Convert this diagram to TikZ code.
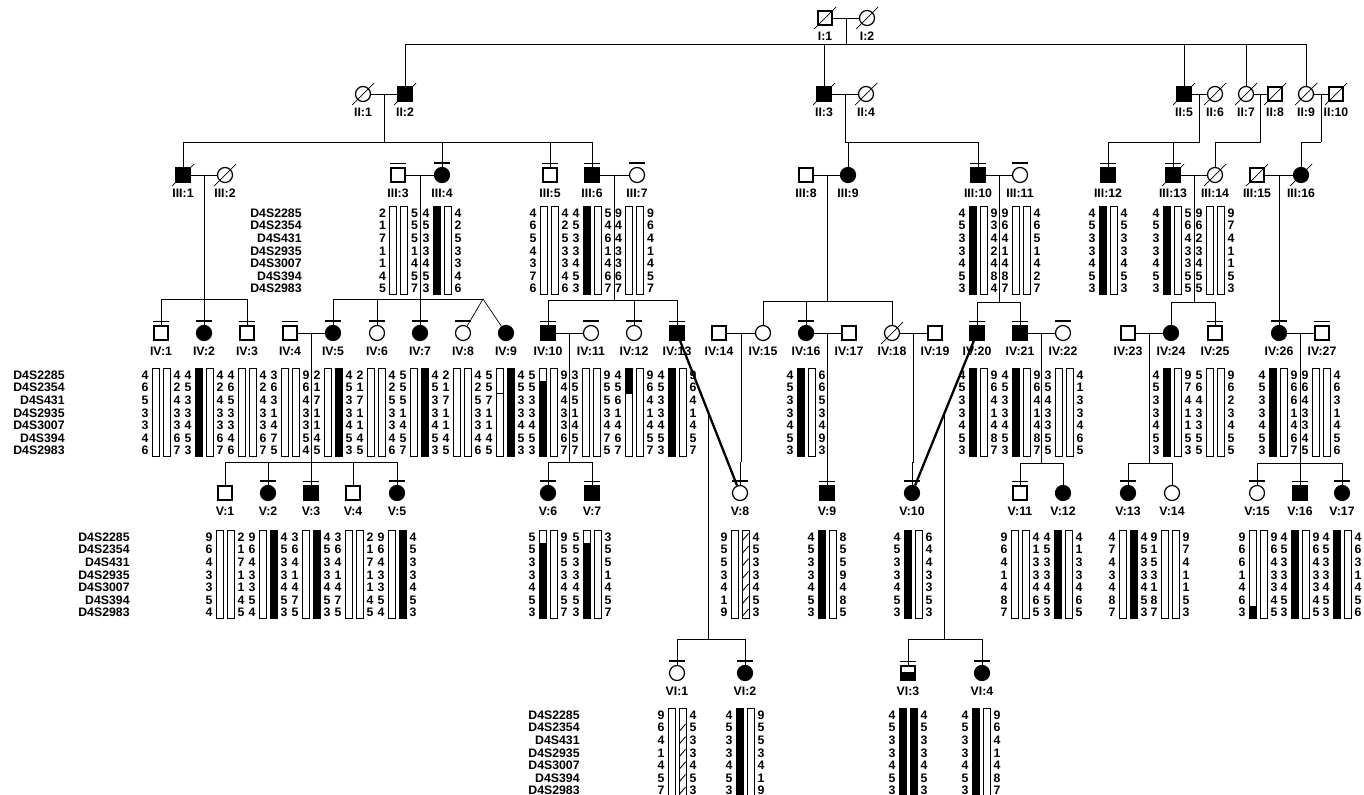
\documentclass[tikz,border=0pt]{standalone}
\usepackage{fontspec}
\setmainfont{Liberation Sans}
\usetikzlibrary{calc}

\newcommand{\ind}[5]{\node[#4] (#1) at (#2,#3) {};
  \node[lab] at (#2,{#3+18}) {#5};}
\newcommand{\dead}[1]{\draw ($(#1)+(-11,11)$) -- ($(#1)+(11,-11)$);}
\newcommand{\tested}[1]{\draw[line width=0.7pt] ($(#1.north)+(-8,-4)$) -- ++(16,0);}
\newcommand{\loci}[2]{\foreach \m [count=\i from 0] in {D4S2285,D4S2354,D4S431,D4S2935,D4S3007,D4S394,D4S2983}
  \node[locus] at (#1,{#2+\i*12.6}) {\m};}
\newcommand{\hapbar}[3]{\foreach \a/\b in {#3}{\ifnum\a>0
    \fill ({#1-3.5},{#2+(\a-1)*12.6-6.3}) rectangle ({#1+3.5},{#2+(\b-1)*12.6+6.3});\fi}
  \draw[hapline] ({#1-3.5},{#2-6.3}) rectangle ({#1+3.5},{#2+6*12.6+6.3});}
\newcommand{\hap}[6]{\foreach \v [count=\i from 0] in {#3} \node[num] at ({#1-16},{#2+\i*12.6}) {\v};
  \foreach \v [count=\i from 0] in {#6} \node[num] at ({#1+16},{#2+\i*12.6}) {\v};
  \hapbar{#1-5.5}{#2}{#4}\hapbar{#1+5.5}{#2}{#5}}
\newcommand{\haphatch}[3]{\foreach \i in {#3,...,6}
  \draw[hapline] ({#1-3},{#2+\i*12.6+3.5}) -- ({#1+3},{#2+\i*12.6-3.5});}
\newcommand{\sib}[5]{\coordinate (#3m) at ($(#1)!0.5!(#2)$);
  \coordinate (#3) at (#3m |- 0,#4);
  \draw (#3m) -- (#3);
  \foreach \c in {#5} \draw (\c) |- (#3);}

\begin{document}
\begin{tikzpicture}[x=0.02cm,y=-0.02cm,line width=0.4pt,
  male/.style={draw,rectangle,minimum size=0.28cm,inner sep=0,line width=0.7pt},
  female/.style={draw,circle,minimum size=0.3cm,inner sep=0,line width=0.7pt},
  aff/.style={fill=black},
  lab/.style={font=\bfseries\fontsize{7}{8}\selectfont,inner sep=0},
  num/.style={font=\bfseries\fontsize{7}{8}\selectfont,inner sep=0},
  locus/.style={font=\bfseries\fontsize{7}{8}\selectfont,anchor=east,inner sep=0},
  hapline/.style={line width=0.5pt},
  mate/.style={line width=1.3pt}]
\useasboundingbox (0,0) rectangle (1364,794);

% generation I and II
\ind{i1}{825}{18}{male}{I:1}
\ind{i2}{867}{18}{female}{I:2}
\ind{ii1}{363}{94}{female}{II:1}
\ind{ii2}{405}{94}{male,aff}{II:2}
\ind{ii3}{824}{94}{male,aff}{II:3}
\ind{ii4}{866}{94}{female}{II:4}
\ind{ii5}{1184}{94}{male,aff}{II:5}
\ind{ii6}{1215}{94}{female}{II:6}
\ind{ii7}{1246}{94}{female}{II:7}
\ind{ii8}{1275}{94}{male}{II:8}
\ind{ii9}{1306}{94}{female}{II:9}
\ind{ii10}{1336}{94}{male}{II:10}

% generation III
\ind{iii1}{183}{175}{male,aff}{III:1}
\ind{iii2}{225}{175}{female}{III:2}
\ind{iii3}{398}{175}{male}{III:3}
\ind{iii4}{442}{175}{female,aff}{III:4}
\ind{iii5}{550}{175}{male}{III:5}
\ind{iii6}{592}{175}{male,aff}{III:6}
\ind{iii7}{637}{175}{female}{III:7}
\ind{iii8}{806}{175}{male}{III:8}
\ind{iii9}{848}{175}{female,aff}{III:9}
\ind{iii10}{978}{175}{male,aff}{III:10}
\ind{iii11}{1020}{175}{female}{III:11}
\ind{iii12}{1108}{175}{male,aff}{III:12}
\ind{iii13}{1173}{175}{male,aff}{III:13}
\ind{iii14}{1215}{175}{female}{III:14}
\ind{iii15}{1257}{175}{male}{III:15}
\ind{iii16}{1301}{175}{female,aff}{III:16}

% generation IV
\ind{iv1}{161}{333}{male}{IV:1}
\ind{iv2}{204}{333}{female,aff}{IV:2}
\ind{iv3}{247}{333}{male}{IV:3}
\ind{iv4}{290}{333}{male}{IV:4}
\ind{iv5}{333}{333}{female,aff}{IV:5}
\ind{iv6}{377}{333}{female}{IV:6}
\ind{iv7}{420}{333}{female,aff}{IV:7}
\ind{iv8}{463}{333}{female}{IV:8}
\ind{iv9}{506}{333}{female,aff}{IV:9}
\ind{iv10}{548}{333}{male,aff}{IV:10}
\ind{iv11}{591}{333}{female}{IV:11}
\ind{iv12}{634}{333}{female}{IV:12}
\ind{iv13}{677}{333}{male,aff}{IV:13}
\ind{iv14}{719}{333}{male}{IV:14}
\ind{iv15}{763}{333}{female}{IV:15}
\ind{iv16}{806}{333}{female,aff}{IV:16}
\ind{iv17}{849}{333}{male}{IV:17}
\ind{iv18}{892}{333}{female}{IV:18}
\ind{iv19}{935}{333}{male}{IV:19}
\ind{iv20}{977}{333}{male,aff}{IV:20}
\ind{iv21}{1020}{333}{male,aff}{IV:21}
\ind{iv22}{1063}{333}{female}{IV:22}
\ind{iv23}{1128}{333}{male}{IV:23}
\ind{iv24}{1171}{333}{female,aff}{IV:24}
\ind{iv25}{1215}{333}{male}{IV:25}
\ind{iv26}{1279}{333}{female,aff}{IV:26}
\ind{iv27}{1322}{333}{male}{IV:27}

% generation V
\ind{v1}{225}{493}{male}{V:1}
\ind{v2}{268}{493}{female,aff}{V:2}
\ind{v3}{311}{493}{male,aff}{V:3}
\ind{v4}{353}{493}{male}{V:4}
\ind{v5}{397}{493}{female,aff}{V:5}
\ind{v6}{548}{493}{female,aff}{V:6}
\ind{v7}{592}{493}{male,aff}{V:7}
\ind{v8}{740}{493}{female}{V:8}
\ind{v9}{827}{493}{male,aff}{V:9}
\ind{v10}{912}{493}{female,aff}{V:10}
\ind{v11}{1020}{493}{male}{V:11}
\ind{v12}{1063}{493}{female,aff}{V:12}
\ind{v13}{1128}{493}{female,aff}{V:13}
\ind{v14}{1172}{493}{female}{V:14}
\ind{v15}{1257}{493}{female}{V:15}
\ind{v16}{1300}{493}{male,aff}{V:16}
\ind{v17}{1342}{493}{female,aff}{V:17}

% generation VI
\ind{vi1}{677}{673}{female}{VI:1}
\ind{vi2}{745}{673}{female,aff}{VI:2}
\ind{vi3}{908}{673}{male}{VI:3}
\ind{vi4}{982}{673}{female,aff}{VI:4}
\fill ($(vi3.west)+(0,-1)$) rectangle (vi3.south east);
\draw[line width=0.7pt] (vi3.south west) rectangle (vi3.north east);

\foreach \n in {i1,i2,ii1,ii2,ii3,ii4,ii5,ii6,ii7,ii8,ii9,ii10,iii1,iii2,iii13,iii14,iii15,iii16,iv18}
  \dead{\n};
\foreach \n in {iii3,iii4,iii5,iii6,iii7,iii10,iii11,iii12,iii13,iv1,iv2,iv3,iv4,iv5,iv6,iv7,iv8,iv10,iv11,iv12,iv13,
  iv16,iv20,iv21,iv22,iv25,iv26,iv27,v2,v3,v5,v6,v7,v8,v9,v10,v11,v13,v15,v16,v17,vi1,vi2,vi3,vi4}
  \tested{\n};

% couples
\foreach \a/\b in {i1/i2,ii1/ii2,ii3/ii4,ii5/ii6,ii7/ii8,ii9/ii10,iii1/iii2,iii3/iii4,iii6/iii7,iii8/iii9,
  iii10/iii11,iii13/iii14,iii15/iii16,iv4/iv5,iv10/iv11,iv14/iv15,iv16/iv17,iv18/iv19,iv21/iv22,iv23/iv24,iv26/iv27}
  \draw (\a) -- (\b);

% sibships
\sib{i1}{i2}{sa}{44}{ii2,ii3,ii5,ii7,ii9}
\sib{ii1}{ii2}{sb}{142}{iii1,iii4,iii5,iii6}
\sib{ii3}{ii4}{sc}{142}{iii9,iii10}
\sib{ii5}{ii6}{sd}{142}{iii12,iii13}
\sib{ii7}{ii8}{se}{142}{iii14}
\sib{ii9}{ii10}{sf}{142}{iii16}
\sib{iii1}{iii2}{sg}{299}{iv1,iv2,iv3}
\sib{iii3}{iii4}{sh}{299}{iv5,iv6,iv7}
\coordinate (tw) at (483,299);
\draw (sh) -- (tw);
\draw (iv8) -- (tw) -- (iv9);
\sib{iii6}{iii7}{si}{300}{iv10,iv12,iv13}
\sib{iii8}{iii9}{sj}{301}{iv15,iv16,iv18}
\sib{iii10}{iii11}{sk}{302}{iv20,iv21}
\sib{iii13}{iii14}{sl}{302}{iv24,iv25}
\sib{iii15}{iii16}{sm}{302}{iv26}
\sib{iv4}{iv5}{sn}{462}{v1,v2,v3,v4,v5}
\sib{iv10}{iv11}{so}{462}{v6,v7}
\sib{iv14}{iv15}{sp}{462}{v8}
\sib{iv16}{iv17}{sq}{462}{v9}
\sib{iv18}{iv19}{sr}{462}{v10}
\sib{iv21}{iv22}{ss}{463}{v11,v12}
\sib{iv23}{iv24}{st}{463}{v13,v14}
\sib{iv26}{iv27}{su}{463}{v15,v16,v17}

% matings across generations
\draw[mate] (iv13) -- (v8);
\draw[mate] (iv20) -- (v10);
\coordinate (ma) at ($(iv13)!0.492!(v8)$);
\coordinate (sv) at (ma |- 0,639);
\draw (ma) -- (sv);
\foreach \c in {vi1,vi2} \draw (\c) |- (sv);
\coordinate (mb) at ($(iv20)!0.5!(v10)$);
\coordinate (sw) at (mb |- 0,639);
\draw (mb) -- (sw);
\foreach \c in {vi3,vi4} \draw (\c) |- (sw);

% haplotypes, generation III
\loci{302}{213}
\hap{398.5}{213}{2,1,7,1,1,4,5}{0/0}{0/0}{5,5,5,1,4,5,7}
\hap{442}{213}{4,5,3,3,4,5,3}{1/7}{0/0}{4,2,5,3,3,4,6}
\hap{549}{213}{4,6,5,4,3,7,6}{0/0}{0/0}{4,2,5,3,3,4,6}
\hap{592}{213}{4,5,3,3,4,5,3}{1/7}{0/0}{5,4,6,1,4,6,7}
\hap{634.5}{213}{9,4,4,3,3,6,7}{0/0}{0/0}{9,6,4,1,4,5,7}
\hap{978}{213}{4,5,3,3,4,5,3}{1/7}{0/0}{9,3,4,2,4,8,4}
\hap{1021}{213}{9,6,4,1,4,8,7}{0/0}{0/0}{4,6,5,1,4,2,7}
\hap{1108}{213}{4,5,3,3,4,5,3}{1/7}{0/0}{4,5,3,3,4,5,3}
\hap{1172}{213}{4,5,3,3,4,5,3}{1/7}{0/0}{5,6,4,3,3,5,5}
\hap{1215}{213}{9,6,2,3,4,5,5}{0/0}{0/0}{9,7,4,1,1,5,3}

% haplotypes, generation IV
\loci{65}{375}
\hap{161}{375}{4,6,5,3,3,4,6}{0/0}{0/0}{4,2,4,3,3,6,7}
\hap{204}{375}{4,5,3,3,4,5,3}{1/7}{0/0}{4,2,4,3,3,6,7}
\hap{247}{375}{4,6,5,3,3,4,6}{0/0}{0/0}{4,2,4,3,3,6,7}
\hap{290}{375}{3,6,3,1,4,7,5}{0/0}{0/0}{9,6,4,3,3,5,4}
\hap{333}{375}{2,1,7,1,1,4,5}{0/0}{1/7}{4,5,3,3,4,5,3}
\hap{376}{375}{2,1,7,1,1,4,5}{0/0}{0/0}{4,2,5,3,3,4,6}
\hap{419}{375}{5,5,5,1,4,5,7}{0/0}{1/7}{4,5,3,3,4,5,3}
\hap{462}{375}{2,1,7,1,1,4,5}{0/0}{0/0}{4,2,5,3,3,4,6}
\hap{505}{375}{5,5,7,1,1,4,5}{0/0}{1/7}{4,5,3,3,4,5,3}
\draw[hapline] (496,393.9) -- (503,393.9);
\hap{548}{375}{5,5,3,3,4,5,3}{2/7}{0/0}{9,4,4,3,3,6,7}
\hap{591}{375}{3,5,5,1,4,5,7}{0/0}{0/0}{9,5,5,3,4,7,5}
\hap{634}{375}{4,5,6,1,4,6,7}{1/2}{0/0}{9,6,4,1,4,5,7}
\hap{677}{375}{4,5,3,3,4,5,3}{1/7}{0/0}{9,6,4,1,4,5,7}
\hap{806}{375}{4,5,3,3,4,5,3}{1/7}{0/0}{6,6,5,3,4,9,3}
\hap{978}{375}{4,5,3,3,4,5,3}{1/7}{0/0}{9,6,4,1,4,8,7}
\hap{1021}{375}{4,5,3,3,4,5,3}{1/7}{0/0}{9,6,4,1,4,8,7}
\hap{1064}{375}{3,5,4,3,3,5,5}{0/0}{0/0}{4,1,3,3,4,6,5}
\hap{1172}{375}{4,5,3,3,4,5,3}{1/7}{0/0}{9,7,4,1,1,5,3}
\hap{1215}{375}{5,6,4,3,3,5,5}{0/0}{0/0}{9,6,2,3,4,5,5}
\hap{1278}{375}{4,5,3,3,4,5,3}{1/7}{0/0}{9,6,6,1,4,6,7}
\hap{1321}{375}{9,6,4,3,3,4,5}{0/0}{0/0}{4,6,3,1,4,5,6}

% haplotypes, generation V
\loci{130}{537}
\hap{225}{537}{9,6,4,3,3,5,4}{0/0}{0/0}{2,1,7,1,1,4,5}
\hap{268}{537}{9,6,4,3,3,5,4}{0/0}{1/7}{4,5,3,3,4,5,3}
\hap{311}{537}{3,6,4,1,4,7,5}{0/0}{1/7}{4,5,3,3,4,5,3}
\hap{354}{537}{3,6,4,1,4,7,5}{0/0}{0/0}{2,1,7,1,1,4,5}
\hap{397}{537}{9,6,4,3,3,5,4}{0/0}{1/7}{4,5,3,3,4,5,3}
\hap{548}{537}{5,5,3,3,4,5,3}{2/7}{0/0}{9,5,5,3,4,5,7}
\hap{592}{537}{5,5,3,3,4,5,3}{2/7}{0/0}{3,5,5,1,4,5,7}
\hap{740}{537}{9,5,5,3,4,1,9}{0/0}{0/0}{4,5,3,3,4,5,3}
\haphatch{745.5}{537}{0}
\hap{827}{537}{4,5,3,3,4,5,3}{1/7}{0/0}{8,5,5,9,4,8,5}
\hap{913}{537}{4,5,3,3,4,5,3}{1/7}{0/0}{6,4,4,3,3,5,3}
\hap{1020}{537}{9,6,4,1,4,8,7}{0/0}{0/0}{4,1,3,3,4,6,5}
\hap{1063}{537}{4,5,3,3,4,5,3}{1/7}{0/0}{4,1,3,3,4,6,5}
\hap{1128}{537}{4,7,4,3,4,8,7}{0/0}{1/7}{4,5,3,3,4,5,3}
\hap{1170}{537}{9,1,5,3,1,8,7}{0/0}{0/0}{9,7,4,1,1,5,3}
\hap{1258}{537}{9,6,6,1,4,6,3}{7/7}{0/0}{9,6,4,3,3,4,5}
\hap{1300}{537}{4,5,3,3,4,5,3}{1/7}{0/0}{9,6,4,3,3,4,5}
\hap{1342}{537}{4,5,3,3,4,5,3}{1/7}{0/0}{4,6,3,1,4,5,6}

% haplotypes, generation VI
\loci{580}{715}
\hap{677}{715}{9,6,4,1,4,5,7}{0/0}{0/0}{4,5,3,3,4,5,3}
\haphatch{682.5}{715}{1}
\hap{745}{715}{4,5,3,3,4,5,3}{1/7}{0/0}{9,5,5,3,4,1,9}
\hap{908}{715}{4,5,3,3,4,5,3}{1/7}{1/7}{4,5,3,3,4,5,3}
\hap{981}{715}{4,5,3,3,4,5,3}{1/7}{0/0}{9,6,4,1,4,8,7}
\end{tikzpicture}
\end{document}
